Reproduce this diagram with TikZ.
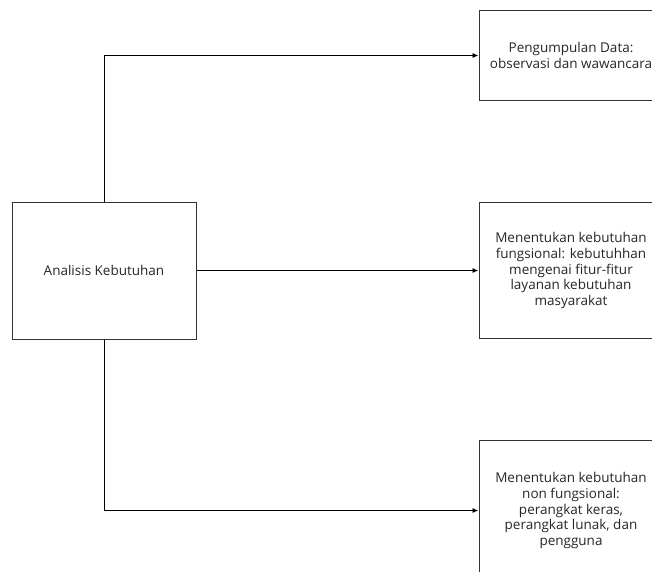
\documentclass[tikz,border=0pt]{standalone}
\usepackage{fontspec}
\setmainfont{Open Sans}
\usetikzlibrary{positioning, arrows.meta}

\begin{document}
\begin{tikzpicture}[
    x=1pt, y=-1pt,
    node distance=100pt,
    stagebox/.style={rectangle, draw=black!80, line width=1pt, align=center, text=black!85, font=\fontsize{13.5}{15.7}\selectfont, minimum width=184pt, inner sep=4pt},
    call/.style={-{Latex[length=6pt, width=5pt]}, line width=0.9pt}
]
    \useasboundingbox (0,0) rectangle (652,571);
    % Main step on the left, three results on the right
    \node[stagebox, minimum height=137pt] (analisis) at (104,270.5) {Analisis Kebutuhan};
    \node[stagebox, minimum height=136pt, right=282pt of analisis] (fungsional) {Menentukan kebutuhan\\fungsional: kebutuhhan\\mengenai fitur-fitur\\layanan kebutuhan\\masyarakat};
    \node[stagebox, minimum height=90pt, above=101pt of fungsional] (data) {Pengumpulan Data:\\observasi dan wawancara};
    \node[stagebox, minimum height=140pt, below=101pt of fungsional] (nonfungsional) {Menentukan kebutuhan\\non fungsional:\\perangkat keras,\\perangkat lunak, dan\\pengguna};

    % Arrows
    \draw[call] (analisis.north) |- (data.west);
    \draw[call] (analisis.east) -- (fungsional.west);
    \draw[call] (analisis.south) |- (nonfungsional.west);
\end{tikzpicture}
\end{document}
